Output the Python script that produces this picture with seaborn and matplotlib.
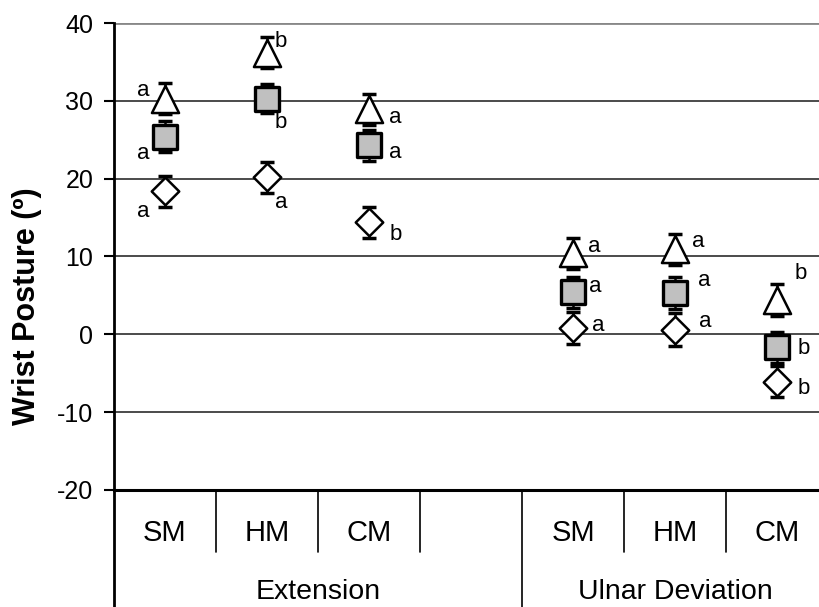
import numpy as np
import pandas as pd
import matplotlib
matplotlib.use('Agg')
import matplotlib.pyplot as plt
import matplotlib.transforms as mtransforms
import seaborn as sns

# categories (slot 3 is the empty gap between the two groups)
slots = ['SM', 'HM', 'CM', '', 'SM', 'HM', 'CM']
groups = ['Extension', 'Ulnar Deviation']

# mean values per condition (Ext SM, HM, CM, UD SM, HM, CM)
tri_mean = [30.3, 36.2, 28.9, 10.4, 10.9, 4.4]
sq_mean = [25.4, 30.3, 24.3, 5.4, 5.3, -1.7]
dia_mean = [18.4, 20.2, 14.4, 0.8, 0.6, -6.1]
tri_sd = [2.0, 2.0, 2.0, 2.0, 2.0, 2.0]
sq_sd = [2.0, 1.9, 2.0, 2.0, 2.0, 2.0]
dia_sd = [2.0, 2.0, 2.0, 2.0, 2.1, 2.0]

tri_lab = ['a', 'b', 'a', 'a', 'a', 'b']
sq_lab = ['a', 'b', 'a', 'a', 'a', 'b']
dia_lab = ['a', 'a', 'b', 'a', 'a', 'b']

# where the letters sit around each marker, in points
tri_off = [(-16, 6), (10, 8), (19, -6), (15, 5), (17, 6), (17, 19)]
sq_off = [(-16, -12), (10, -17), (19, -5), (16, 4), (21, 9), (19, -1)]
dia_off = [(-16, -15), (10, -18), (19, -9), (18, 2), (22, 6), (19, -5)]

xpos = [i for i, s in enumerate(slots) if s]

sns.set_theme(style='white')
plt.rcParams['font.family'] = ['Liberation Sans', 'DejaVu Sans']
plt.rcParams['axes.unicode_minus'] = False
plt.rcParams['text.color'] = 'black'
plt.rcParams['axes.labelcolor'] = 'black'
plt.rcParams['xtick.color'] = 'black'
plt.rcParams['ytick.color'] = 'black'

fig = plt.figure(figsize=(8.2, 6.07), dpi=100)
ax = fig.add_axes([0.139, 0.193, 0.861, 0.769])

series = [
    (tri_mean, tri_sd, tri_lab, tri_off, '^', 'white', 19.5, 1.8),
    (sq_mean, sq_sd, sq_lab, sq_off, 's', '#c0c0c0', 17, 2.4),
    (dia_mean, dia_sd, dia_lab, dia_off, 'D', 'white', 14, 1.8),
]

for mean, sd, lab, off, mk, fc, ms, lw in series:
    ax.errorbar(xpos, mean, yerr=sd, fmt='none', ecolor='black',
                elinewidth=1.8, capsize=5, capthick=2.5, zorder=3)
    df = pd.DataFrame({'x': xpos, 'y': mean})
    sns.scatterplot(data=df, x='x', y='y', marker=mk, s=ms ** 2,
                    color=fc, edgecolor='black', linewidth=lw,
                    ax=ax, zorder=4, legend=False)
    for x, y, t, o in zip(xpos, mean, lab, off):
        ax.annotate(t, (x, y), xytext=o, textcoords='offset points',
                    ha='center', va='center', fontsize=16, zorder=5)

ax.set_ylim(-20, 40)
ax.set_xlim(-0.5, 6.42)
ax.set_yticks(range(-20, 41, 10))
ax.tick_params(axis='y', direction='out', length=7, width=1.5,
               labelsize=18, pad=8, left=True, color='black')
ax.set_xticks(range(len(slots)))
ax.set_xticklabels(slots, fontsize=21)
ax.tick_params(axis='x', length=0, pad=21)
ax.set_xlabel('')
ax.set_ylabel('Wrist Posture (º)', fontsize=22, fontweight='bold',
              labelpad=11)
ax.yaxis.label.set_y(0.394)

for v in range(-10, 40, 10):
    ax.axhline(v, color='#1a1a1a', lw=1.1, zorder=1)
ax.axhline(40, color='#888888', lw=2, zorder=1)

for side in ['top', 'right']:
    ax.spines[side].set_visible(False)
ax.spines['left'].set_color('black')
ax.spines['left'].set_linewidth(2)
ax.spines['bottom'].set_color('black')
ax.spines['bottom'].set_linewidth(2.2)

trans = mtransforms.blended_transform_factory(ax.transData, ax.transAxes)
# category separators below the axis
for xs in [0.5, 1.5, 2.5, 4.5, 5.5]:
    ax.plot([xs, xs], [0, -0.133], color='black', lw=1.2,
            transform=trans, clip_on=False)
ax.plot([3.5, 3.5], [0, -0.26], color='black', lw=1.2,
        transform=trans, clip_on=False)
ax.plot([-0.5, -0.5], [0, -0.26], color='black', lw=2,
        transform=trans, clip_on=False)

ax.text(1.5, -0.218, groups[0], transform=trans, ha='center', va='center',
        fontsize=20.5)
ax.text(5.0, -0.218, groups[1], transform=trans, ha='center', va='center',
        fontsize=20.5)

fig.savefig('out.png', dpi=100)
